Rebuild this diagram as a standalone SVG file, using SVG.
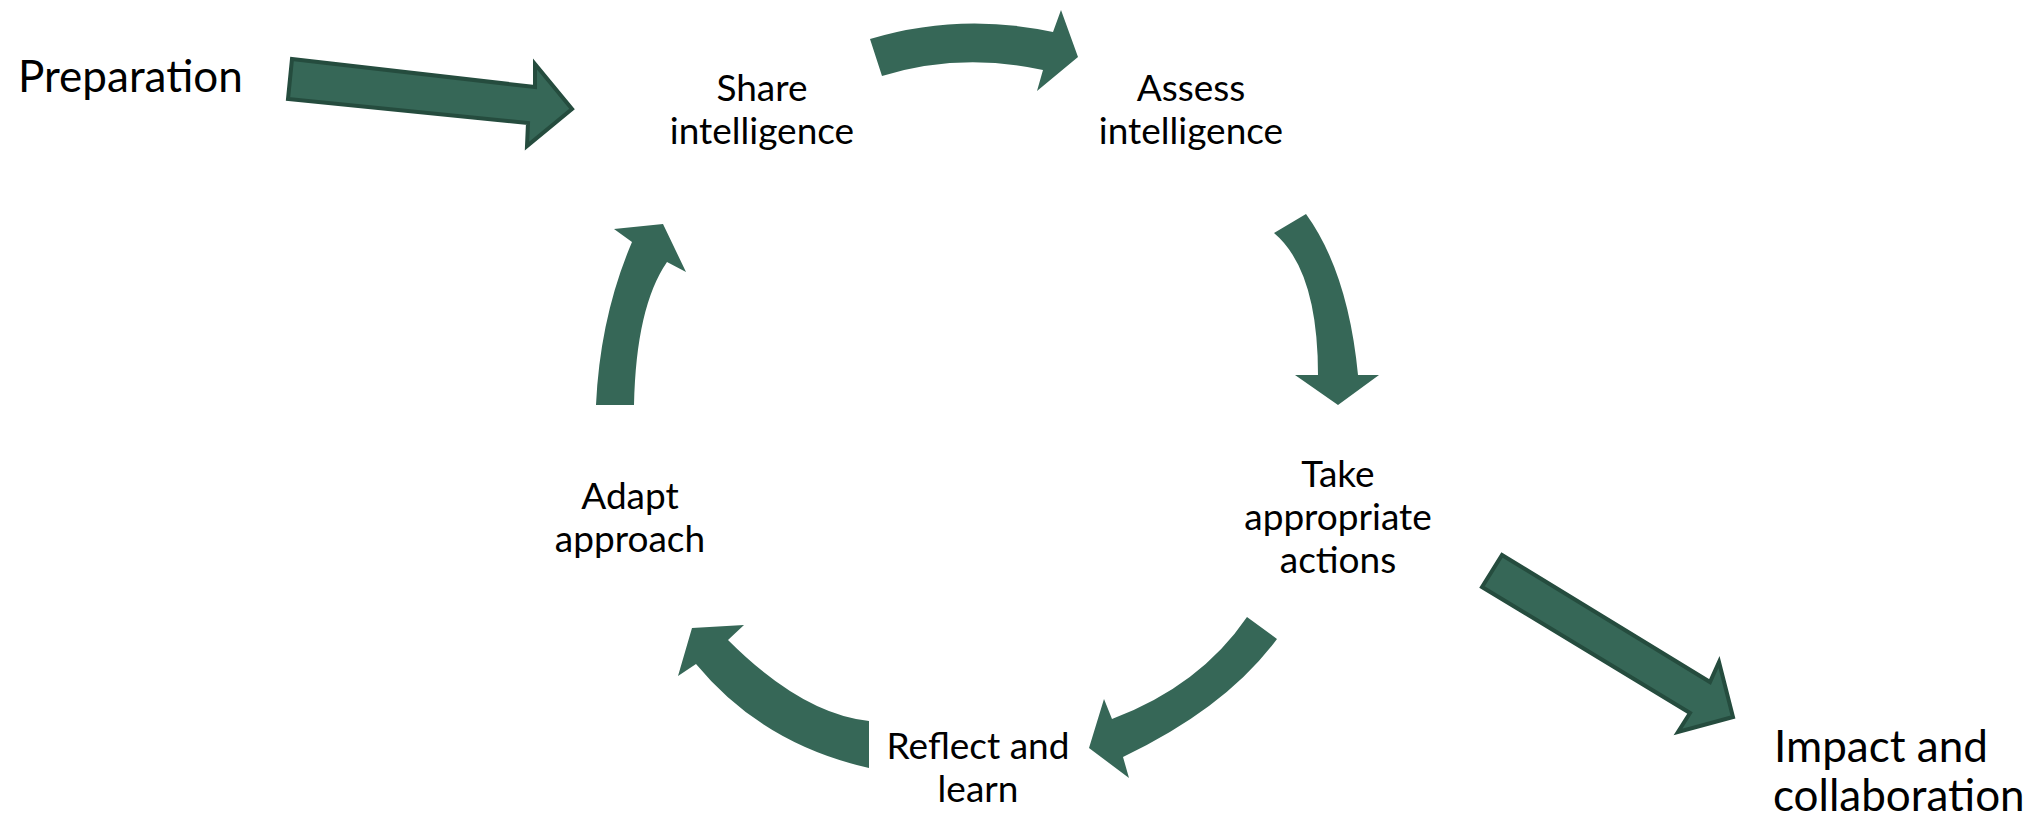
<svg xmlns="http://www.w3.org/2000/svg" width="2034" height="829" viewBox="0 0 2034 829">
<style>
.a{fill:#366757;}
.s{fill:#366757;stroke:#254c3e;stroke-width:4;stroke-linejoin:miter;}
.t{font-family:Lato,"Open Sans","DejaVu Sans",sans-serif;font-size:37px;fill:#000;text-anchor:middle;}
.b{font-family:Lato,"Open Sans","DejaVu Sans",sans-serif;font-size:44px;fill:#000;}
</style>
<rect width="2034" height="829" fill="#fff"/>
<g id="connectors">
<path class="s" d="M292,59 L535,87 L535,64 L572,109 L527,146 L528,123 L288,99 Z"/>
<path class="a" d="M870,39 Q960,12 1053,32 L1061,10 L1078,57 L1037,91 L1043,70 Q960,52 882,76 Z"/>
<path class="a" d="M1274,233 L1306,214 Q1348,272 1358,375 L1379,375 L1338,405 L1295,375 L1318,375 Q1318,270 1274,233 Z"/>
<path class="a" d="M1247,617 L1277,639 Q1226,708 1123,757 L1129,778 L1089,748 L1104,699 L1112,719 Q1200,686 1247,617 Z"/>
<path class="a" d="M869,721 L869,768 Q762,744 696,664 L678,676 L692,628 L744,625 L728,640 Q802,714 869,721 Z"/>
<path class="a" d="M596,405 Q600,317 632,242 L614,229 L663,224 L686,272 L667,262 Q636,307 634,405 Z"/>
<path class="s" d="M1502,555 L1710,682 L1719,662 L1733,717 L1678,732 L1690,713 L1482,587 Z"/>
</g>
<g id="preparation"><text class="b" x="18" y="92">Preparation</text></g>
<g id="share"><text class="t" x="762" y="101">Share</text><text class="t" x="762" y="144">intelligence</text></g>
<g id="assess"><text class="t" x="1191" y="101">Assess</text><text class="t" x="1191" y="144">intelligence</text></g>
<g id="take"><text class="t" x="1338" y="487">Take</text><text class="t" x="1338" y="530">appropriate</text><text class="t" x="1338" y="573">actions</text></g>
<g id="reflect"><text class="t" x="978" y="759">Reflect and</text><text class="t" x="978" y="802">learn</text></g>
<g id="adapt"><text class="t" x="630" y="509">Adapt</text><text class="t" x="630" y="552">approach</text></g>
<g id="impact"><text class="b" x="1774" y="762">Impact and</text><text class="b" x="1773" y="811">collaboration</text></g>
</svg>
